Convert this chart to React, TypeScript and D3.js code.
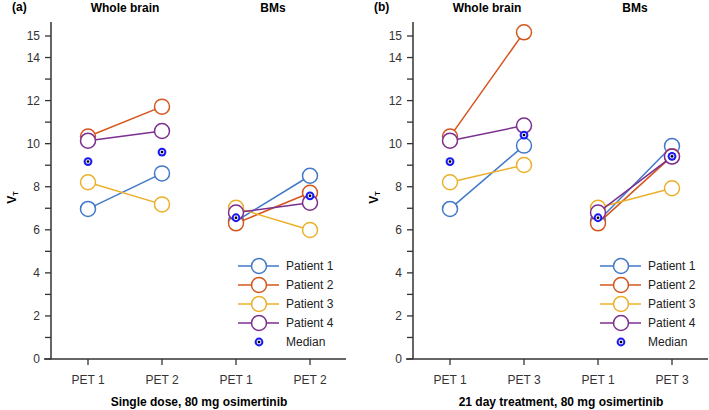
import * as d3 from "d3";

const categories = ["WB1", "WB2", "BM1", "BM2"];
const patients = ["Patient 1", "Patient 2", "Patient 3", "Patient 4"];
const colors = ["#4179C8", "#D4561D", "#EBB02A", "#7B2F8F"];
const yTicks = d3.range(0, 16);
const yLabels = [0, 2, 4, 6, 8, 10, 12, 14, 15];

// values per patient: [WB PET1, WB PETx, BM PET1, BM PETx]
const singleDose = [
  [6.97, 8.62, 6.4, 8.51],
  [10.33, 11.72, 6.3, 7.72],
  [8.21, 7.18, 7.02, 5.99],
  [10.14, 10.59, 6.8, 7.26],
];
const singleMedian = [9.17, 9.61, 6.56, 7.58];

const treatment = [
  [6.97, 9.91, 6.4, 9.89],
  [10.33, 15.17, 6.3, 9.42],
  [8.21, 9.01, 7.02, 7.93],
  [10.14, 10.84, 6.8, 9.4],
];
const treatmentMedian = [9.17, 10.4, 6.56, 9.41];

const panels = [
  { tag: "(a)", left: 51, xLabels: ["PET 1", "PET 2", "PET 1", "PET 2"], title: "Single dose, 80 mg osimertinib", data: singleDose, median: singleMedian },
  { tag: "(b)", left: 413, xLabels: ["PET 1", "PET 3", "PET 1", "PET 3"], title: "21 day treatment, 80 mg osimertinib", data: treatment, median: treatmentMedian },
];

const font = "'Liberation Sans', Arial, sans-serif";
const axisColor = "#333";

const y = d3.scaleLinear().domain([0, 15]).range([359, 36]);

function Median({ cx, cy }: { cx: number; cy: number }) {
  return (
    <g>
      <circle cx={cx} cy={cy} r={4.4} fill="#1a1aF0" />
      <circle cx={cx} cy={cy} r={2.4} fill="#e8e8ff" />
      <circle cx={cx} cy={cy} r={1.3} fill="#000" />
    </g>
  );
}

function Panel({ p }: { p: (typeof panels)[number] }) {
  const x = d3.scalePoint<string>().domain(categories).range([p.left, p.left + 296]).padding(0.5);
  const groups = [[0, 1], [2, 3]];
  const legendX = x("BM1")! + 2;
  return (
    <g>
      <text x={p.left - 39} y={11} fontSize={12} fontWeight="bold" fontFamily={font}>{p.tag}</text>
      <text x={(x("WB1")! + x("WB2")!) / 2} y={12} fontSize={12} fontWeight="bold" textAnchor="middle" fontFamily={font}>Whole brain</text>
      <text x={(x("BM1")! + x("BM2")!) / 2} y={12} fontSize={12} fontWeight="bold" textAnchor="middle" fontFamily={font}>BMs</text>
      <text transform={`translate(${p.left - 35},${y(7.5)}) rotate(-90)`} fontSize={12} fontWeight="bold" textAnchor="middle" fontFamily={font}>
        V<tspan fontSize={7} dy={2}>T</tspan>
      </text>
      {/* y axis */}
      <line x1={p.left} x2={p.left} y1={22} y2={y(0)} stroke={axisColor} strokeWidth={1.5} />
      {yTicks.map((t) => (
        <line key={t} x1={p.left - 6} x2={p.left} y1={y(t)} y2={y(t)} stroke={axisColor} strokeWidth={1.3} />
      ))}
      {yLabels.map((t) => (
        <text key={t} x={p.left - 11} y={y(t)} dy="0.35em" fontSize={12} textAnchor="end" fill={axisColor} fontFamily={font}>{t}</text>
      ))}
      {/* x axis */}
      <line x1={p.left - 7} x2={p.left + 295} y1={y(0)} y2={y(0)} stroke={axisColor} strokeWidth={1.5} />
      {categories.map((c, i) => (
        <g key={c}>
          <line x1={x(c)} x2={x(c)} y1={y(0)} y2={y(0) + 6} stroke={axisColor} strokeWidth={1.3} />
          <text x={x(c)} y={y(0) + 25} fontSize={12} textAnchor="middle" fill={axisColor} fontFamily={font}>{p.xLabels[i]}</text>
        </g>
      ))}
      <text x={p.left + 148} y={406} fontSize={12} fontWeight="bold" textAnchor="middle" fontFamily={font}>{p.title}</text>
      {/* series */}
      {p.data.map((vals, k) => (
        <g key={k}>
          {groups.map((g) => (
            <path key={g[0]} d={d3.line<number>().x((i) => x(categories[i])!).y((i) => y(vals[i]))(g)!} fill="none" stroke={colors[k]} strokeWidth={1.5} />
          ))}
          {vals.map((v, i) => (
            <circle key={i} cx={x(categories[i])} cy={y(v)} r={7.5} fill="#fff" stroke={colors[k]} strokeWidth={1.5} />
          ))}
        </g>
      ))}
      {p.median.map((v, i) => (
        <Median key={i} cx={x(categories[i])!} cy={y(v)} />
      ))}
      {/* legend */}
      {patients.map((name, k) => {
        const ly = 266 + k * 19;
        return (
          <g key={name}>
            <line x1={legendX} x2={legendX + 41} y1={ly} y2={ly} stroke={colors[k]} strokeWidth={1.5} />
            <circle cx={legendX + 21} cy={ly} r={7.5} fill="#fff" stroke={colors[k]} strokeWidth={1.5} />
            <text x={legendX + 48} y={ly} dy="0.35em" fontSize={12} fill="#222" fontFamily={font}>{name}</text>
          </g>
        );
      })}
      <Median cx={legendX + 21} cy={342} />
      <text x={legendX + 48} y={342} dy="0.35em" fontSize={12} fill="#222" fontFamily={font}>Median</text>
    </g>
  );
}

export default function App() {
  return (
    <svg width={709} height={410} style={{ position: "absolute", left: 0, top: 0, background: "#fff" }}>
      {panels.map((p) => (
        <Panel key={p.tag} p={p} />
      ))}
    </svg>
  );
}
